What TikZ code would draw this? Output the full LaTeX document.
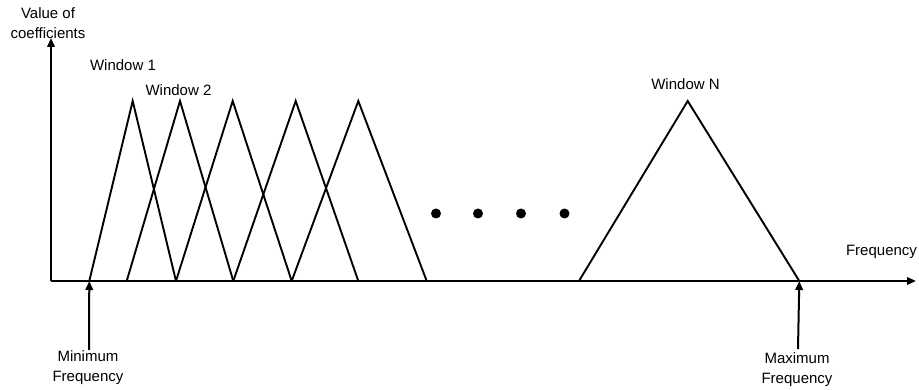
\documentclass[tikz,border=0pt]{standalone}
\usepackage{fontspec}
\setmainfont{Liberation Sans}
\usetikzlibrary{arrows.meta}
\begin{document}
\begin{tikzpicture}[x=1pt,y=-1pt,
  axisline/.style={line width=2pt,-{Triangle[length=9pt,width=7.5pt]}},
  pointer/.style={line width=2pt,-{Triangle[length=9pt,width=7.5pt]}},
  win/.style={line width=1.9pt,line join=miter},
  lbl/.style={inner sep=0pt,font=\fontsize{15}{20}\selectfont,align=center},
  dotmark/.style={circle,fill=black,inner sep=0pt,minimum size=10pt}]
\useasboundingbox (0,0) rectangle (919,390);
% axes
\coordinate (O) at (51,281);
\coordinate (ytop) at (51,38);
\coordinate (xend) at (916,281);
\draw[axisline] (O) -- (ytop);
\draw[axisline] (O) -- (xend);
% windows
\foreach \n/\l/\p/\r in {1/89.3/132.7/176,2/126.7/180/233.3,3/176/232.7/291.7,4/233.3/295.7/358.3,5/291.7/358.3/426.7,N/579/687.7/799.3}{
  \coordinate (w\n l) at (\l,281);
  \coordinate (w\n p) at (\p,101);
  \coordinate (w\n r) at (\r,281);
  \draw[win] (w\n l) -- (w\n p) -- (w\n r);
}
% dots
\node[dotmark] (d1) at (436,213.5) {};
\node[dotmark] (d2) at (478,213.5) {};
\node[dotmark] (d3) at (521,213.5) {};
\node[dotmark] (d4) at (564.5,213.5) {};
% labels
\node[lbl] (yl) at (48,23) {Value of\\coefficients};
\node[lbl] (xl) at (881.5,252) {Frequency};
\node[lbl] (t1) at (123,65) {Window 1};
\node[lbl] (t2) at (178.5,90) {Window 2};
\node[lbl] (tN) at (685.5,84) {Window N};
\node[lbl] (minl) at (88,367.5) {Minimum\\Frequency};
\node[lbl] (maxl) at (797,369.5) {Maximum\\Frequency};
% pointers
\coordinate (minb) at (89,350);
\coordinate (maxb) at (798,349);
\draw[pointer] (minb) -- (w1l);
\draw[pointer] (maxb) -- (wNr);
\end{tikzpicture}
\end{document}
